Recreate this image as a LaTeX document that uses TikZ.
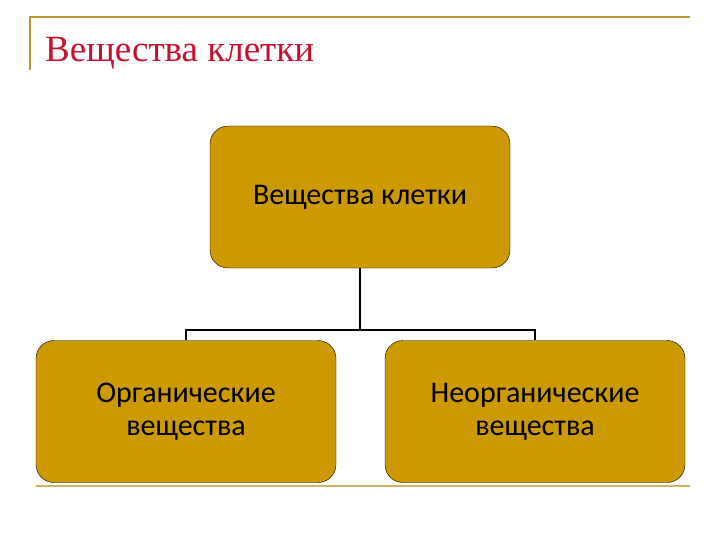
\documentclass[tikz,border=0pt]{standalone}
\usepackage{fontspec}
\setmainfont{Liberation Serif}
\newfontfamily\boxfont{Carlito}
\definecolor{gold}{RGB}{204,153,0}
\definecolor{lineg}{RGB}{184,150,40}
\definecolor{titler}{RGB}{200,16,46}
\begin{document}
\begin{tikzpicture}[x=1pt,y=-1pt,
  box/.style={draw=black,fill=gold,rounded corners=18pt,minimum width=300pt,minimum height=142pt,align=center,font=\boxfont\fontsize{30}{33}\selectfont,inner sep=0pt},
  conn/.style={draw=black,line width=1.2pt}]
\useasboundingbox (0,0) rectangle (720,540);
\draw[lineg,line width=2pt] (30,70) -- (30,17) -- (690,17);
\draw[lineg!70,line width=2pt] (36,486) -- (690,486);
\node[anchor=base west,text=titler,font=\fontsize{37}{40}\selectfont,inner sep=0pt] (title) at (45,62) {Вещества клетки};
\node[box] (top) at (360,197) {Вещества клетки};
\node[box] (left) at (186,411.5) {Органические\\ вещества};
\node[box] (right) at (535,411.5) {Неорганические\\ вещества};
\coordinate (j) at (360,330);
\draw[conn] (top.south) -- (j);
\draw[conn] (left.north) -- (186,330) -- (535,330) -- (right.north);
\end{tikzpicture}
\end{document}
